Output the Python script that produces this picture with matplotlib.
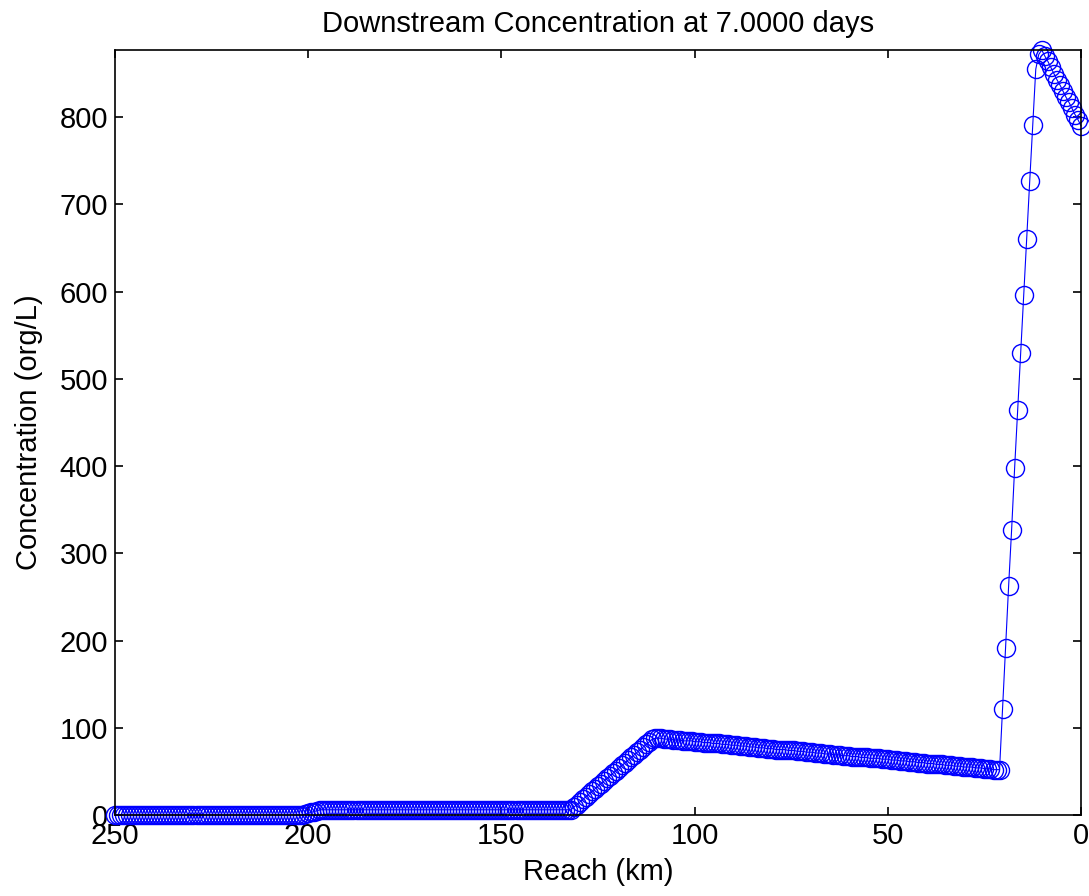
import numpy as np
import matplotlib
matplotlib.use("Agg")
import matplotlib.pyplot as plt

plt.rcParams['font.family'] = ['Liberation Sans', 'DejaVu Sans']
plt.rcParams['font.size'] = 21

# concentration (org/L) along the reach, upstream (250 km) -> outlet (0 km)
upstream_zero = [
    0, 0, 0, 0, 0, 0, 0, 0, 0, 0, 0, 0, 0, 0, 0, 0, 0, 0, 0, 0, 0,
    0, 0, 0, 0, 0, 0, 0, 0, 0, 0, 0, 0, 0, 0, 0, 0, 0, 0, 0, 0, 0,
    0, 0, 0, 0, 0, 0, 0, 0, 0, 0, 0, 0, 0, 0, 0, 0, 0, 0, 0, 0, 0,
]
first_step = [1, 2, 3, 4, 5, 6]
low_plateau = [
    6, 6, 6, 6, 6, 6, 6, 6, 6, 6, 6, 6, 6, 6, 6, 6, 6, 6, 6, 6,
    6, 6, 6, 6, 6, 6, 6, 6, 6, 6, 6, 6, 6, 6, 6, 6, 6, 6, 6, 6,
    6, 6, 6, 6, 6, 6, 6, 6, 6, 6, 6, 6, 6, 6, 6, 6, 6, 6, 6, 6,
    6, 6, 6, 6, 6, 6, 6, 6, 6, 6, 6, 6, 6, 6, 6, 6, 6, 6, 6, 6,
    6, 6, 6,
]
rise = [9, 12, 15, 18, 21, 24, 27, 30, 33, 36, 39, 42, 45, 48,
        51, 54, 57, 60, 63, 66, 69, 72, 75, 78, 81, 84, 87]
slow_decline = [
    88, 88, 88, 87, 87, 87, 86, 86, 86, 85, 85, 85, 85, 84, 84, 84,
    83, 83, 83, 82, 82, 82, 81, 81, 81, 80, 80, 80, 79, 79, 79,
    78, 78, 78, 77, 77, 77, 76, 76, 76, 75, 75, 75, 75, 74, 74, 74,
    73, 73, 73, 72, 72, 72, 71, 71, 71, 70, 70, 70, 69, 69, 69,
    68, 68, 68, 67, 67, 67, 66, 66, 66, 65, 65, 65, 65, 64, 64, 64,
    63, 63, 63, 62, 62, 62, 61, 61, 61, 60, 60, 60, 59, 59, 59,
    58, 58, 58, 57, 57, 57, 56, 56, 56, 55, 55, 55, 55, 54, 54, 54,
    53, 53, 53, 52, 52, 52,
]
spike = [121, 192, 262, 327, 398, 464, 530, 596, 660, 727, 791, 855]
crest = [872, 877]
tail = [870, 864, 857, 850, 843, 837, 830, 823, 817, 810, 803, 797, 790]

conc = np.array(upstream_zero + first_step + low_plateau + rise
                + slow_decline + spike + crest + tail, dtype=float)
reach = np.linspace(250, 0, len(conc))

fig = plt.figure(figsize=(10.89, 8.96), dpi=100)
ax = fig.add_axes([0.1056, 0.0904, 0.8871, 0.8538])

ax.plot(reach, conc, '-o', color='blue', lw=0.8, ms=13, mfc='none',
        mec='blue', mew=1.0, clip_on=False)

ax.set_xlim(250, 0)
ax.set_ylim(0, conc.max())
ax.set_xticks([250, 200, 150, 100, 50, 0])
ax.set_yticks(np.arange(0, 900, 100))

ax.tick_params(direction='in', top=True, right=True, length=6, width=1.2)
ax.tick_params(axis='x', pad=5)
ax.tick_params(axis='y', pad=5)
for s in ax.spines.values():
    s.set_linewidth(1.2)

ax.set_title("Downstream Concentration at 7.0000 days", pad=13, fontsize=21)
ax.set_xlabel("Reach (km)", labelpad=6)
ax.set_ylabel("Concentration (org/L)", labelpad=12)

plt.savefig("out.png", dpi=100)
